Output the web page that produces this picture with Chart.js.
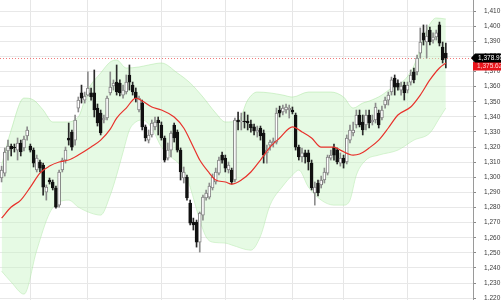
<!DOCTYPE html>
<html>
<head>
<meta charset="utf-8">
<script src="https://cdn.jsdelivr.net/npm/chart.js@4.4.1/dist/chart.umd.min.js"></script>
<style>
  html, body { margin: 0; padding: 0; background: #fff; }
  #wrap { width: 501px; height: 300px; }
</style>
</head>
<body>
<div id="wrap"><canvas id="chart"></canvas></div>
<script>
// daily candles
const open = [
  1299.5, 1302.8, 1317.4, 1320.7, 1320.0, 1318.0, 1322.7, 1319.4, 1327.3, 1320.7,
  1318.0, 1304.8, 1310.1, 1308.1, 1290.2, 1298.2, 1296.9, 1292.9, 1281.6, 1304.8,
  1311.4, 1326.0, 1329.9, 1324.6, 1345.8, 1355.8, 1351.1, 1354.4, 1355.8, 1355.8,
  1345.8, 1342.5, 1337.9, 1339.2, 1355.8, 1360.4, 1363.0, 1362.4, 1354.4, 1356.4,
  1367.7, 1361.0, 1356.4, 1344.5, 1349.1, 1333.3, 1324.6, 1328.0, 1333.3, 1337.9,
  1334.6, 1326.0, 1312.7, 1318.0, 1334.6, 1329.9, 1318.0, 1299.5, 1300.2, 1282.9,
  1270.4, 1270.4, 1257.1, 1275.0, 1286.3, 1286.9, 1292.9, 1296.9, 1302.8, 1314.7,
  1312.7, 1304.8, 1304.8, 1298.2, 1337.9, 1336.6, 1337.2, 1337.2, 1335.2, 1333.3,
  1329.9, 1332.6, 1329.3, 1316.1, 1321.3, 1322.7, 1323.3, 1344.5, 1343.2, 1344.5,
  1344.5, 1344.5, 1341.2, 1320.0, 1313.4, 1316.1, 1316.1, 1309.4, 1289.6, 1296.2,
  1294.9, 1298.2, 1302.8, 1312.7, 1320.0, 1318.0, 1309.4, 1312.7, 1310.1, 1324.6,
  1329.3, 1334.6, 1341.2, 1336.6, 1334.6, 1341.2, 1336.6, 1337.9, 1342.5, 1339.2,
  1347.8, 1351.1, 1356.4, 1365.7, 1362.4, 1357.7, 1361.0, 1357.7, 1363.0, 1369.7,
  1369.7, 1382.2, 1395.5, 1389.5, 1397.4, 1390.8, 1392.8, 1400.8, 1386.2, 1382.2
]
const close = [
  1304.8, 1316.7, 1320.7, 1318.7, 1319.4, 1322.7, 1316.7, 1325.3, 1331.3, 1318.0,
  1309.4, 1312.7, 1306.1, 1293.5, 1293.5, 1296.9, 1292.9, 1280.3, 1303.5, 1311.4,
  1318.0, 1324.6, 1320.0, 1337.9, 1351.1, 1352.4, 1353.8, 1359.1, 1353.1, 1344.5,
  1335.9, 1329.3, 1339.2, 1352.4, 1359.7, 1362.4, 1356.4, 1355.8, 1357.7, 1363.0,
  1363.0, 1356.4, 1352.4, 1352.4, 1333.3, 1326.0, 1328.0, 1335.9, 1336.6, 1335.9,
  1326.0, 1311.4, 1318.0, 1329.3, 1326.0, 1318.0, 1303.5, 1303.5, 1286.3, 1269.7,
  1268.4, 1257.1, 1276.3, 1286.9, 1289.6, 1294.2, 1300.2, 1303.5, 1311.4, 1311.4,
  1306.1, 1308.1, 1296.9, 1337.9, 1336.6, 1337.2, 1336.6, 1335.9, 1332.6, 1330.6,
  1331.3, 1327.3, 1314.7, 1318.0, 1323.3, 1324.0, 1342.5, 1342.5, 1345.8, 1346.5,
  1345.8, 1343.2, 1320.0, 1313.4, 1316.1, 1313.4, 1310.1, 1292.9, 1293.5, 1289.6,
  1298.2, 1303.5, 1313.4, 1314.7, 1314.7, 1310.1, 1312.7, 1309.4, 1326.0, 1331.3,
  1331.3, 1341.2, 1334.6, 1331.3, 1341.2, 1335.9, 1337.9, 1346.5, 1334.6, 1344.5,
  1351.1, 1354.4, 1364.4, 1359.7, 1359.7, 1360.4, 1355.8, 1361.0, 1367.7, 1364.4,
  1378.9, 1389.5, 1390.8, 1393.5, 1389.5, 1392.8, 1395.5, 1388.8, 1377.6, 1378.95
]
const high = [
  1307.4, 1319.4, 1324.6, 1322.0, 1322.0, 1326.0, 1324.6, 1327.3, 1333.3, 1322.0,
  1319.4, 1314.7, 1311.4, 1309.4, 1294.9, 1299.5, 1298.2, 1294.2, 1304.8, 1312.7,
  1320.0, 1335.9, 1331.3, 1341.2, 1353.1, 1361.0, 1356.4, 1369.7, 1359.1, 1371.0,
  1348.5, 1344.5, 1341.2, 1353.8, 1369.7, 1364.4, 1374.3, 1364.4, 1361.0, 1367.7,
  1374.3, 1363.0, 1359.1, 1353.8, 1351.1, 1334.6, 1331.3, 1337.9, 1339.9, 1339.9,
  1336.6, 1327.3, 1322.7, 1330.6, 1335.9, 1331.3, 1319.4, 1306.8, 1301.5, 1284.9,
  1273.0, 1271.7, 1277.0, 1288.2, 1291.6, 1296.2, 1302.2, 1306.1, 1313.4, 1316.7,
  1314.7, 1310.1, 1306.1, 1339.2, 1343.2, 1342.5, 1343.2, 1341.2, 1337.9, 1335.2,
  1333.9, 1333.9, 1331.3, 1321.3, 1324.6, 1326.0, 1345.8, 1347.1, 1347.8, 1348.5,
  1347.8, 1346.5, 1342.5, 1321.3, 1319.4, 1318.0, 1318.0, 1311.4, 1296.9, 1298.2,
  1300.8, 1306.1, 1314.7, 1318.0, 1322.0, 1319.4, 1316.1, 1314.7, 1328.0, 1334.6,
  1336.6, 1344.5, 1344.5, 1341.2, 1344.5, 1344.5, 1341.2, 1349.1, 1344.5, 1347.1,
  1353.1, 1356.4, 1366.3, 1367.7, 1364.4, 1363.0, 1363.0, 1363.0, 1371.0, 1372.3,
  1380.9, 1398.8, 1400.8, 1400.8, 1399.4, 1395.5, 1397.4, 1402.7, 1389.5, 1388.8
]
const low = [
  1296.9, 1300.8, 1311.4, 1314.1, 1316.7, 1311.4, 1314.1, 1317.4, 1324.6, 1316.7,
  1306.8, 1303.5, 1303.5, 1288.2, 1284.9, 1295.5, 1291.6, 1279.6, 1280.3, 1303.5,
  1309.4, 1321.3, 1318.0, 1321.3, 1343.2, 1349.1, 1349.1, 1353.8, 1351.1, 1339.9,
  1333.9, 1328.0, 1335.9, 1337.9, 1354.4, 1357.7, 1354.4, 1353.8, 1352.4, 1355.1,
  1357.7, 1354.4, 1349.8, 1343.2, 1331.3, 1324.0, 1322.7, 1326.6, 1331.3, 1328.0,
  1324.6, 1310.1, 1311.4, 1313.4, 1323.3, 1316.7, 1298.2, 1296.2, 1284.9, 1268.4,
  1265.1, 1253.8, 1250.5, 1271.7, 1284.9, 1285.6, 1291.6, 1295.5, 1301.5, 1309.4,
  1303.5, 1302.8, 1295.5, 1296.9, 1331.3, 1331.3, 1332.6, 1331.3, 1329.9, 1328.0,
  1326.6, 1324.6, 1309.4, 1309.4, 1318.0, 1320.0, 1322.0, 1339.9, 1341.2, 1342.5,
  1339.2, 1341.9, 1318.0, 1311.4, 1310.1, 1309.4, 1304.8, 1291.6, 1281.6, 1287.6,
  1292.9, 1296.2, 1301.5, 1311.4, 1311.4, 1308.8, 1307.4, 1306.1, 1308.8, 1322.7,
  1327.3, 1332.6, 1333.3, 1328.0, 1331.3, 1332.6, 1334.6, 1335.9, 1332.6, 1337.9,
  1345.8, 1347.8, 1354.4, 1354.4, 1357.7, 1354.4, 1351.1, 1355.8, 1361.0, 1362.4,
  1367.7, 1378.9, 1387.5, 1378.9, 1387.5, 1388.8, 1390.8, 1386.9, 1375.6, 1372.3
]

// moving average and bands, [candle index, price]
const maPoints = [
  [0, 1273.0], [3, 1280.3], [6, 1284.9], [9, 1293.5], [12, 1302.8], [15, 1307.4],
  [18, 1310.1], [21, 1311.4], [24, 1314.7], [28, 1320.0], [31, 1324.6], [34, 1331.9],
  [36, 1339.2], [39, 1345.8], [42, 1352.4], [44, 1350.5], [47, 1346.5], [50, 1344.5],
  [54, 1339.9], [57, 1332.6], [60, 1320.0], [62, 1311.4], [65, 1302.8], [67, 1298.2],
  [70, 1296.9], [72, 1295.5], [75, 1298.2], [78, 1303.5], [81, 1311.4], [84, 1320.0],
  [87, 1326.0], [91, 1333.3], [94, 1330.0], [97, 1326.0], [100, 1320.0], [104, 1320.0],
  [106, 1318.0], [110, 1314.7], [112, 1315.4], [115, 1319.4], [118, 1324.6], [121, 1332.6],
  [124, 1341.2], [128, 1346.5], [131, 1354.4], [134, 1364.4], [137, 1372.3], [139, 1375.62]
]
const upperBand = [
  [0, 1308.1], [3, 1331.3], [7, 1352.4], [10, 1351.1], [13, 1344.5], [16, 1336.6],
  [20, 1336.6], [24, 1339.9], [27, 1357.7], [31, 1369.0], [34, 1376.3], [36, 1377.6],
  [39, 1372.3], [43, 1373.0], [46, 1374.3], [50, 1375.6], [55, 1369.0], [59, 1362.4],
  [63, 1353.1], [67, 1342.5], [70, 1336.6], [74, 1337.2], [77, 1351.1], [80, 1356.4],
  [84, 1355.8], [88, 1354.4], [91, 1353.1], [96, 1356.4], [103, 1356.4], [107, 1353.1],
  [110, 1345.8], [113, 1349.1], [115, 1350.4], [119, 1354.4], [122, 1359.1], [125, 1362.4],
  [128, 1369.7], [130, 1378.9], [132, 1392.2], [134, 1401.4], [136, 1405.4], [139, 1404.7]
]
const lowerBand = [
  [0, 1237.9], [3, 1230.7], [7, 1222.7], [11, 1251.8], [15, 1276.3], [18, 1283.6],
  [21, 1284.9], [24, 1280.3], [28, 1276.3], [31, 1275.0], [34, 1288.2], [36, 1301.5],
  [38, 1316.7], [40, 1331.3], [42, 1336.6], [44, 1337.9], [47, 1332.6], [50, 1320.0],
  [53, 1313.4], [55, 1310.1], [57, 1304.8], [59, 1293.5], [62, 1271.7], [64, 1260.5],
  [66, 1257.1], [70, 1256.5], [72, 1255.2], [78, 1251.8], [81, 1261.1], [84, 1281.6],
  [88, 1294.2], [91, 1301.5], [93, 1304.8], [96, 1293.5], [100, 1284.9], [104, 1281.6],
  [107, 1281.6], [109, 1284.9], [111, 1301.5], [114, 1311.4], [118, 1314.7], [124, 1318.0],
  [129, 1324.6], [134, 1329.3], [137, 1339.2], [139, 1345.8]
]

const yTicks = [1220, 1230, 1240, 1250, 1260, 1270, 1280, 1290, 1300, 1310,
  1320, 1330, 1340, 1350, 1360, 1370, 1380, 1390, 1400, 1410]
const monthStarts = [9, 27, 50, 70, 91, 107, 127]

const slots = 148 // candle slots incl. empty space before the axis
const labels = Array.from({ length: slots }, (_, i) => String(i))
const lastClose = close[close.length - 1]
const maLast = maPoints[maPoints.length - 1][1]

function fmt(v, d) {
  const s = v.toFixed(d).split('.')
  s[0] = s[0].replace(/\B(?=(\d{3})+(?!\d))/g, ',')
  return s.join('.')
}
const toXY = pts => pts.map(([i, v]) => ({ x: String(i), y: v }))
const isUp = i => close[i] >= open[i]

const FONT = '"Liberation Sans", Arial, sans-serif'

const lastPrice = {
  id: 'lastPrice',
  beforeDatasetsDraw(chart) {
    const { ctx, chartArea, scales: { y } } = chart
    const py = Math.round(y.getPixelForValue(lastClose)) + 0.5
    ctx.save()
    ctx.strokeStyle = '#f27a7a'
    ctx.lineWidth = 1
    ctx.setLineDash([1, 2])
    ctx.beginPath()
    ctx.moveTo(chartArea.left, py)
    ctx.lineTo(chartArea.right, py)
    ctx.stroke()
    ctx.restore()
  },
  afterDraw(chart) {
    const { ctx, chartArea, scales: { y } } = chart
    const r = chart.width
    const cy = Math.round(y.getPixelForValue(lastClose))
    const maTop = Math.max(y.getPixelForValue(maLast) - 4, cy + 4)
    ctx.save()
    ctx.fillStyle = '#e8141b'
    ctx.fillRect(chartArea.right, maTop, r - chartArea.right, 8.5)
    ctx.fillStyle = '#000'
    ctx.beginPath()
    ctx.moveTo(chartArea.right - 2, cy)
    ctx.lineTo(chartArea.right + 2, cy - 4.5)
    ctx.lineTo(r, cy - 4.5)
    ctx.lineTo(r, cy + 4.5)
    ctx.lineTo(chartArea.right + 2, cy + 4.5)
    ctx.closePath()
    ctx.fill()
    ctx.font = '6.5px ' + FONT
    ctx.textBaseline = 'middle'
    ctx.fillStyle = '#fff'
    ctx.fillText(fmt(lastClose, 2), chartArea.right + 5, cy + 0.5)
    ctx.fillStyle = '#ffd6d6'
    ctx.fillText(fmt(maLast, 2), chartArea.right + 4, maTop + 4.5)
    ctx.restore()
  }
}

new Chart(document.getElementById('chart'), {
  type: 'bar',
  data: {
    labels: labels,
    datasets: [
      {
        type: 'line',
        data: toXY(maPoints),
        borderColor: '#e8322c',
        borderWidth: 1.2,
        pointRadius: 0,
        cubicInterpolationMode: 'monotone',
        fill: false,
        order: 0
      },
      {
        data: open.map((o, i) => [o, close[i]]),
        backgroundColor: open.map((o, i) => isUp(i) ? '#ffffff' : '#111111'),
        borderColor: open.map((o, i) => isUp(i) ? '#808080' : '#111111'),
        borderWidth: 1,
        borderSkipped: false,
        barThickness: 3,
        grouped: false,
        order: 1
      },
      {
        data: low.map((l, i) => [l, high[i]]),
        backgroundColor: low.map((l, i) => isUp(i) ? '#8c8c8c' : '#2a2a2a'),
        borderWidth: 0,
        barThickness: 1,
        grouped: false,
        order: 2
      },
      {
        type: 'line',
        data: toXY(upperBand),
        borderColor: 'rgba(160, 225, 150, 0.55)',
        borderWidth: 0.8,
        backgroundColor: 'rgba(200, 245, 195, 0.45)',
        pointRadius: 0,
        cubicInterpolationMode: 'monotone',
        fill: '+1',
        order: 3
      },
      {
        type: 'line',
        data: toXY(lowerBand),
        borderColor: 'rgba(160, 225, 150, 0.55)',
        borderWidth: 0.8,
        pointRadius: 0,
        cubicInterpolationMode: 'monotone',
        fill: false,
        order: 4
      }
    ]
  },
  options: {
    responsive: true,
    maintainAspectRatio: false,
    animation: false,
    layout: { padding: 0 },
    plugins: {
      legend: { display: false },
      tooltip: { enabled: false }
    },
    scales: {
      x: {
        offset: true,
        grid: {
          offset: false,
          drawTicks: false,
          color: ctx => monthStarts.includes(ctx.index) ? '#e6e6e6' : 'rgba(0,0,0,0)'
        },
        border: { display: false },
        ticks: { display: false }
      },
      y: {
        position: 'right',
        min: 1218.8,
        max: 1417.3,
        afterBuildTicks: axis => { axis.ticks = yTicks.map(v => ({ value: v })) },
        afterFit: axis => {
          axis.width = 28
          axis.paddingTop = 0
          axis.paddingBottom = 0
        },
        grid: { color: '#e8e8e8', tickColor: '#8a8a8a', tickLength: 3 },
        border: { color: '#9a9a9a', width: 1 },
        ticks: {
          autoSkip: false,
          padding: 8,
          color: '#3a3a3a',
          font: { size: 6.5, family: FONT },
          callback: v => fmt(v, 0)
        }
      }
    }
  },
  plugins: [lastPrice]
})
</script>
</body>
</html>
